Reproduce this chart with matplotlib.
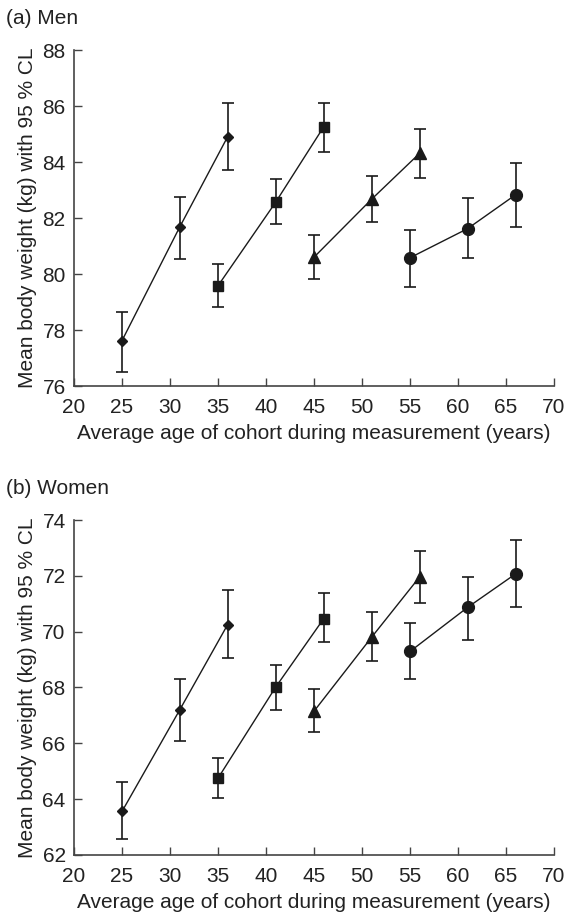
import matplotlib
matplotlib.use("Agg")
import matplotlib.pyplot as plt
import numpy as np

plt.rcParams['font.family'] = ['Liberation Sans', 'DejaVu Sans']

# Cohort ages (years)
age_c1 = [25, 31, 36]
age_c2 = [35, 41, 46]
age_c3 = [45, 51, 56]
age_c4 = [55, 61, 66]

# Men: mean, lower CL, upper CL
men_c1 = [77.62, 81.67, 84.90]
men_c1_lo = [76.51, 80.54, 83.71]
men_c1_hi = [78.65, 82.76, 86.10]
men_c2 = [79.58, 82.56, 85.25]
men_c2_lo = [78.83, 81.79, 84.37]
men_c2_hi = [80.36, 83.38, 86.12]
men_c3 = [80.60, 82.67, 84.31]
men_c3_lo = [79.81, 81.85, 83.43]
men_c3_hi = [81.39, 83.50, 85.19]
men_c4 = [80.58, 81.62, 82.83]
men_c4_lo = [79.55, 80.58, 81.68]
men_c4_hi = [81.57, 82.71, 83.98]

# Women
wom_c1 = [63.56, 67.19, 70.25]
wom_c1_lo = [62.57, 66.08, 69.05]
wom_c1_hi = [64.62, 68.32, 71.50]
wom_c2 = [64.75, 68.01, 70.46]
wom_c2_lo = [64.04, 67.18, 69.62]
wom_c2_hi = [65.46, 68.82, 71.40]
wom_c3 = [67.15, 69.80, 71.96]
wom_c3_lo = [66.42, 68.94, 71.04]
wom_c3_hi = [67.95, 70.69, 72.90]
wom_c4 = [69.29, 70.87, 72.07]
wom_c4_lo = [68.29, 69.71, 70.87]
wom_c4_hi = [70.31, 71.96, 73.29]

x_ticks = [20, 25, 30, 35, 40, 45, 50, 55, 60, 65, 70]
men_yticks = [76, 78, 80, 82, 84, 86, 88]
wom_yticks = [62, 64, 66, 68, 70, 72, 74]

fig = plt.figure(figsize=(5.67, 9.17), dpi=100)
W, H = 567, 917
FS = 15

def make_ax(top_px, bot_px):
    left = 74 / W
    right = 554 / W
    return fig.add_axes([left, 1 - bot_px / H, right - left, (bot_px - top_px) / H])

ax1 = make_ax(50, 386)
ax2 = make_ax(520, 855)

ink = '#1a1a1a'
txt = '#222222'
markers = [('D', 5.6), ('s', 7.7), ('^', 8.5), ('o', 8.5)]

def draw(ax, ages, means, los, his, yticks, ylim):
    for (mk, ms), x, m, lo, hi in zip(markers, ages, means, los, his):
        m = np.array(m); lo = np.array(lo); hi = np.array(hi)
        ax.errorbar(x, m, yerr=[m - lo, hi - m], fmt='-', marker=mk, ms=ms,
                    color=ink, mfc=ink, mec=ink, lw=1.0, elinewidth=1.2,
                    capsize=4.3, capthick=1.2, zorder=3)
    ax.set_xlim(20, 70)
    ax.set_ylim(*ylim)
    ax.set_xticks(x_ticks)
    ax.set_yticks(yticks)
    for s in ['top', 'right']:
        ax.spines[s].set_visible(False)
    for s in ['left', 'bottom']:
        ax.spines[s].set_color('#444444')
        ax.spines[s].set_linewidth(1.2)
    ax.tick_params(direction='in', length=6, width=1.0, color='#444444',
                   labelsize=FS, labelcolor=txt)
    ax.tick_params(axis='y', pad=6)
    ax.tick_params(axis='x', pad=8.5)
    ax.set_xlabel('Average age of cohort during measurement (years)',
                  fontsize=FS, color=txt, labelpad=5)
    ax.set_ylabel('Mean body weight (kg) with 95 % CL', fontsize=FS,
                  color=txt, labelpad=4)

draw(ax1, [age_c1, age_c2, age_c3, age_c4],
     [men_c1, men_c2, men_c3, men_c4],
     [men_c1_lo, men_c2_lo, men_c3_lo, men_c4_lo],
     [men_c1_hi, men_c2_hi, men_c3_hi, men_c4_hi],
     men_yticks, (76, 88))
draw(ax2, [age_c1, age_c2, age_c3, age_c4],
     [wom_c1, wom_c2, wom_c3, wom_c4],
     [wom_c1_lo, wom_c2_lo, wom_c3_lo, wom_c4_lo],
     [wom_c1_hi, wom_c2_hi, wom_c3_hi, wom_c4_hi],
     wom_yticks, (62, 74))

fig.text(6 / W, 1 - 18 / H, '(a) Men', fontsize=FS, color=txt,
         ha='left', va='center')
fig.text(6 / W, 1 - 489 / H, '(b) Women', fontsize=FS, color=txt,
         ha='left', va='center')

fig.savefig('out.png', dpi=100)
